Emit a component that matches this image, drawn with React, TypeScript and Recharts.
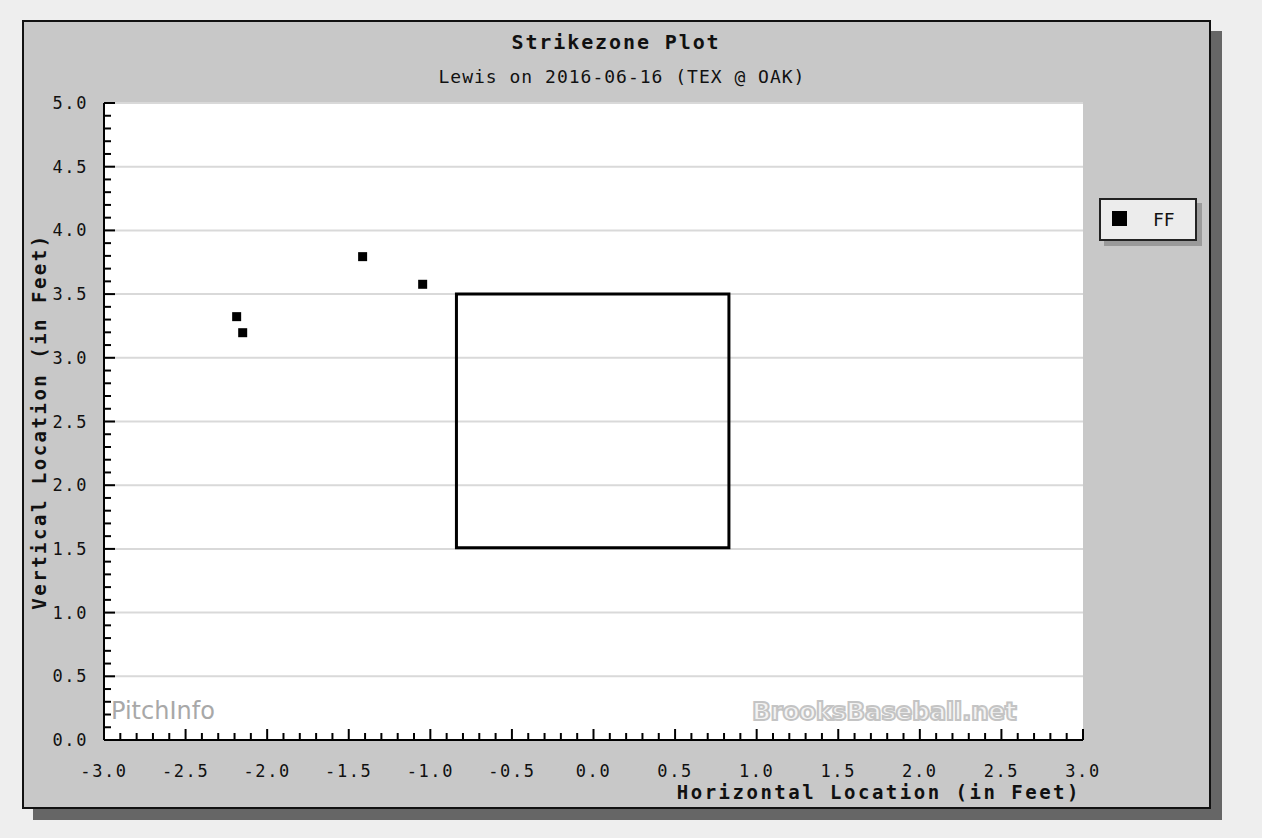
import React from 'react';
import { ScatterChart, Scatter, XAxis, YAxis, CartesianGrid, ReferenceArea, Legend } from 'recharts';

const pitchX = [-2.187, -2.150, -1.415, -1.047];
const pitchZ = [3.323, 3.197, 3.794, 3.577];
const pitchType = 'FF';

const zoneLeft = -0.84;
const zoneRight = 0.83;
const zoneBottom = 1.51;
const zoneTop = 3.5;

const xMajorTicks = [-3, -2.5, -2, -1.5, -1, -0.5, 0, 0.5, 1, 1.5, 2, 2.5, 3];
const xTickLabels = ['-3.0', '-2.5', '-2.0', '-1.5', '-1.0', '-0.5', '0.0', '0.5', '1.0', '1.5', '2.0', '2.5', '3.0'];
const yMajorTicks = [0, 0.5, 1, 1.5, 2, 2.5, 3, 3.5, 4, 4.5, 5];
const yTickLabels = ['0.0', '0.5', '1.0', '1.5', '2.0', '2.5', '3.0', '3.5', '4.0', '4.5', '5.0'];

const title = 'Strikezone Plot';
const subtitle = 'Lewis on 2016-06-16 (TEX @ OAK)';
const xTitle = 'Horizontal Location (in Feet)';
const yTitle = 'Vertical Location (in Feet)';

// minor ticks every 0.1 between major ticks
const minorSteps = (majors: number[]) => {
  const out: number[] = [];
  for (let i = 0; i < majors.length; i++) {
    out.push(majors[i]);
    if (i < majors.length - 1) {
      for (let k = 1; k < 5; k++) out.push(Math.round((majors[i] + (k * (majors[i + 1] - majors[i])) / 5) * 100) / 100);
    }
  }
  return out;
};
const xAllTicks = minorSteps(xMajorTicks);
const yAllTicks = minorSteps(yMajorTicks);

const data = pitchX.map((x, i) => ({ x, z: pitchZ[i] }));

const MONO = '"DejaVu Sans Mono", "Liberation Mono", monospace';

const majorIndex = (arr: number[], v: number) => arr.findIndex((m) => Math.abs(m - v) < 1e-6);

const XTick = (props: any) => {
  const { x, y, payload } = props;
  const idx = majorIndex(xMajorTicks, payload.value);
  const major = idx >= 0;
  return (
    <g>
      <line x1={x} x2={x} y1={y} y2={y - (major ? 11 : 7)} stroke="#000" strokeWidth={2} />
      {major && (
        <text x={x} y={y + 37} textAnchor="middle" fontFamily={MONO} fontSize={17} letterSpacing={1.6} fill="#111">
          {xTickLabels[idx]}
        </text>
      )}
    </g>
  );
};

const YTick = (props: any) => {
  const { x, y, payload } = props;
  const idx = majorIndex(yMajorTicks, payload.value);
  const major = idx >= 0;
  return (
    <g>
      <line x1={x} x2={x + (major ? 11 : 7)} y1={y} y2={y} stroke="#000" strokeWidth={2} />
      {major && (
        <text x={x - 16} y={y + 6} textAnchor="end" fontFamily={MONO} fontSize={17} letterSpacing={1.6} fill="#111">
          {yTickLabels[idx]}
        </text>
      )}
    </g>
  );
};

const SquareShape = (props: any) => {
  const { cx, cy } = props;
  return <rect x={cx - 4.5} y={cy - 4.5} width={9} height={9} fill="#000" />;
};

const LegendBox = () => (
  <div
    style={{
      width: 98,
      height: 43,
      border: '2px solid #222',
      background: '#ececec',
      boxShadow: '5px 5px 0 #9a9a9a',
      boxSizing: 'border-box',
      position: 'relative',
      fontFamily: MONO,
    }}
  >
    <div style={{ position: 'absolute', left: 11, top: 11, width: 15, height: 15, background: '#000' }} />
    <div style={{ position: 'absolute', left: 52, top: 9, fontSize: 18, color: '#111' }}>{pitchType}</div>
  </div>
);

export default function App() {
  return (
    <div style={{ position: 'absolute', left: 0, top: 0, width: 1262, height: 838, background: '#eeeeee', overflow: 'hidden' }}>
      <div style={{ position: 'absolute', left: 33, top: 31, width: 1189, height: 789, background: '#666666' }} />
      <div
        style={{
          position: 'absolute',
          left: 22,
          top: 20,
          width: 1189,
          height: 789,
          background: '#c8c8c8',
          border: '2px solid #111',
          boxSizing: 'border-box',
        }}
      />
      <div style={{ position: 'absolute', left: 0, top: 0 }}>
        <ScatterChart width={1262} height={838} margin={{ top: 103, right: 179, bottom: 58, left: 44 }}>
          <CartesianGrid horizontal vertical={false} horizontalValues={yMajorTicks} stroke="#d9d9d9" strokeWidth={2} fill="#ffffff" />
          <XAxis
            type="number"
            dataKey="x"
            domain={[-3, 3]}
            ticks={xAllTicks}
            interval={0}
            height={40}
            tickSize={0}
            tickMargin={0}
            tickLine={false}
            axisLine={{ stroke: '#000', strokeWidth: 2 }}
            tick={<XTick />}
            allowDataOverflow
            label={(p: any) => {
              const vb = p.viewBox;
              return (
                <text x={vb.x + vb.width - 2} y={vb.y + 59} textAnchor="end" fontFamily={MONO} fontSize={19} fontWeight="bold" letterSpacing={2.5} fill="#111">
                  {xTitle}
                </text>
              );
            }}
          />
          <YAxis
            type="number"
            dataKey="z"
            domain={[0, 5]}
            ticks={yAllTicks}
            interval={0}
            width={60}
            tickSize={0}
            tickMargin={0}
            tickLine={false}
            axisLine={{ stroke: '#000', strokeWidth: 2 }}
            tick={<YTick />}
            allowDataOverflow
            label={(p: any) => {
              const vb = p.viewBox;
              const cx = 46;
              const cy = vb.y + vb.height / 2;
              return (
                <text x={cx} y={cy} transform={`rotate(-90 ${cx} ${cy})`} textAnchor="middle" fontFamily={MONO} fontSize={19} fontWeight="bold" letterSpacing={2.5} fill="#111">
                  {yTitle}
                </text>
              );
            }}
          />
          <ReferenceArea x1={zoneLeft} x2={zoneRight} y1={zoneBottom} y2={zoneTop} fill="none" fillOpacity={0} stroke="#000" strokeWidth={3} ifOverflow="visible" />
          <Scatter name={pitchType} data={data} shape={<SquareShape />} isAnimationActive={false} />
          <Legend
            layout="vertical"
            align="center"
            verticalAlign="middle"
            content={<LegendBox />}
            wrapperStyle={{ position: 'absolute', left: 1099, top: 198, width: 104, height: 48 }}
          />
        </ScatterChart>
      </div>
      <div style={{ position: 'absolute', left: 0, top: 30, width: 1232, textAlign: 'center', fontFamily: MONO, fontSize: 20, fontWeight: 'bold', letterSpacing: 1.9, color: '#111' }}>
        {title}
      </div>
      <div style={{ position: 'absolute', left: 0, top: 66, width: 1244, textAlign: 'center', fontFamily: MONO, fontSize: 18, letterSpacing: 1, color: '#111' }}>
        {subtitle}
      </div>
      <div style={{ position: 'absolute', left: 111, top: 697, fontFamily: '"DejaVu Sans", sans-serif', fontSize: 24, color: '#a8a8a8' }}>
        PitchInfo
      </div>
      <div
        style={{
          position: 'absolute',
          left: 752,
          top: 697,
          fontFamily: '"DejaVu Sans", sans-serif',
          fontSize: 25,
          fontWeight: 'bold',
          color: '#f4f4f4',
          WebkitTextStroke: '2px #c4c4c4',
          letterSpacing: -0.5,
        }}
      >
        BrooksBaseball.net
      </div>
    </div>
  );
}
